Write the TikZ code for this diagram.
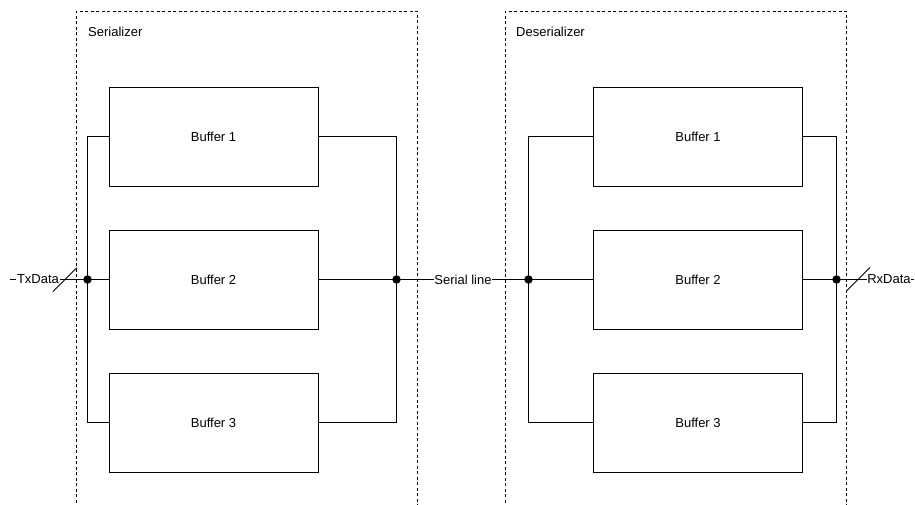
\documentclass[tikz,border=0pt]{standalone}
\usepackage{fontspec}
\setmainfont{Liberation Sans}
\usetikzlibrary{calc}
\begin{document}
\begin{tikzpicture}[x=1pt,y=-1pt,
  wire/.style={draw=black,line width=1pt},
  bufbox/.style={draw=black,line width=1pt,fill=white,minimum width=209pt,minimum height=99pt,inner sep=0pt,font=\fontsize{13}{15}\selectfont},
  frame/.style={draw=black,line width=0.9pt,dash pattern=on 3pt off 2.5pt},
  lbl/.style={fill=white,inner sep=0.8pt,font=\fontsize{13}{15}\selectfont},
  title/.style={anchor=west,inner sep=0pt,font=\fontsize{13}{15}\selectfont},
  junction/.style={circle,fill=black,inner sep=0pt,minimum size=8.5pt}]
\useasboundingbox (0,0) rectangle (915,504);
\clip (0,0) rectangle (915,504);

% dashed enclosures (open towards the bottom edge)
\draw[frame] (76,530) -- (76,11) -- (417,11) -- (417,530);
\draw[frame] (505,530) -- (505,11) -- (846,11) -- (846,530);
\node[title] (sertitle) at (88,32) {Serializer};
\node[title] (destitle) at (516,32) {Deserializer};

% buffers
\node[bufbox] (s1) at (213.5,136.5) {Buffer 1};
\node[bufbox] (s2) at (213.5,279.5) {Buffer 2};
\node[bufbox] (s3) at (213.5,422.5) {Buffer 3};
\node[bufbox] (d1) at (698,136.5) {Buffer 1};
\node[bufbox] (d2) at (698,279.5) {Buffer 2};
\node[bufbox] (d3) at (698,422.5) {Buffer 3};

% bus junctions
\coordinate (sl) at (87.5,279.5);
\coordinate (sr) at (396.5,279.5);
\coordinate (dl) at (528.5,279.5);
\coordinate (dr) at (836.5,279.5);

% serializer buses
\draw[wire] (s1.west) -| (sl) |- (s3.west);
\draw[wire] (sl) -- (s2.west);
\draw[wire] (s1.east) -| (sr) |- (s3.east);
\draw[wire] (s2.east) -- (sr);

% deserializer buses
\draw[wire] (d1.west) -| (dl) |- (d3.west);
\draw[wire] (dl) -- (d2.west);
\draw[wire] (d1.east) -| (dr) |- (d3.east);
\draw[wire] (d2.east) -- (dr);

% input
\coordinate (txin) at (10,279.5);
\draw[wire] (txin) -- (sl);
\node[lbl] (tx) at (38,279.5) {TxData};
\coordinate (txs) at (65,279.5);
\draw[wire] ($(txs)+(-12,12)$) -- ($(txs)+(12,-12)$);

% serial link
\draw[wire] (sr) -- (dl);
\node[lbl] (serial) at (463,279.5) {Serial line};

% output
\coordinate (rxout) at (914,279.5);
\draw[wire] (dr) -- (rxout);
\node[lbl] (rx) at (889,279.5) {RxData};
\coordinate (rxs) at (858,279.5);
\draw[wire] ($(rxs)+(-12,12)$) -- ($(rxs)+(12,-12)$);

% junction dots
\foreach \p in {sl,sr,dl,dr} \node[junction] at (\p) {};
\end{tikzpicture}
\end{document}
